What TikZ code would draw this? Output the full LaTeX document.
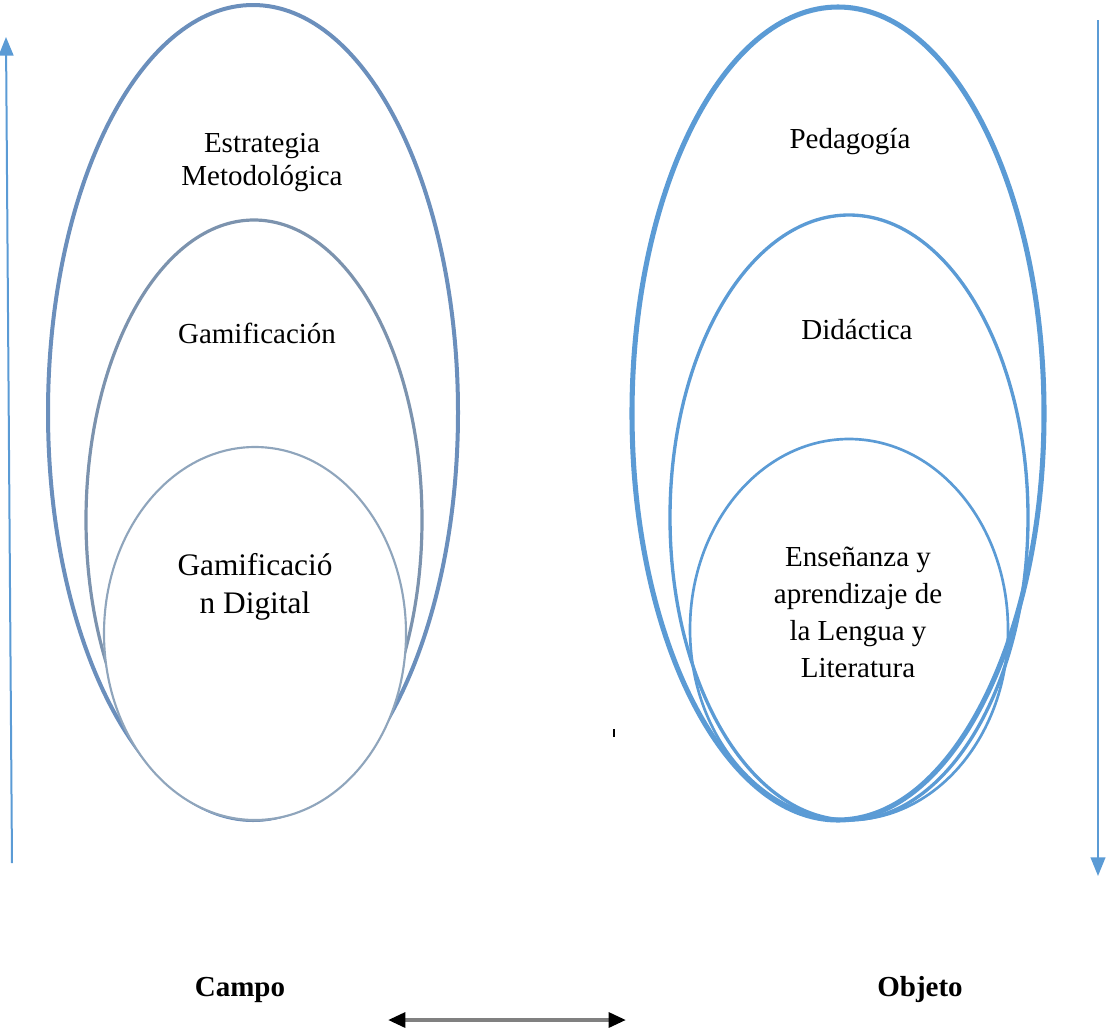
\documentclass[tikz,border=0pt]{standalone}
\usepackage{fontspec}
\setmainfont{Liberation Serif}
\usetikzlibrary{arrows.meta}
\definecolor{lblue}{HTML}{6B8FBC}
\definecolor{lgray}{HTML}{7C93AE}
\definecolor{lgray2}{HTML}{8FA5BC}
\definecolor{rblue}{HTML}{5B9BD5}
\begin{document}
\begin{tikzpicture}[x=0.75pt,y=-0.75pt,
  lbl/.style={align=center,font=\fontsize{21.75}{24.75}\selectfont},
  lblbig/.style={align=center,font=\fontsize{23.5}{28.5}\selectfont},
  lblr/.style={align=center,font=\fontsize{21.75}{27.75}\selectfont},
  bottomlbl/.style={font=\fontsize{21.75}{24}\selectfont\bfseries},
  sidearrow/.style={draw=rblue,line width=1.5pt,-{Triangle[width=11pt,length=14pt]}}]
\useasboundingbox (0,0) rectangle (1106,1029);
% left ellipses
\draw[lblue,line width=3pt] (253,412.5) ellipse [x radius=205,y radius=407.5];
\draw[lgray,line width=2.4pt] (254,520) ellipse [x radius=168,y radius=300];
\draw[lgray2,line width=1.6pt,fill=white] (255,633.5) ellipse [x radius=151,y radius=186.5];
% right ellipses
\draw[rblue,line width=3.8pt] (838,413.5) ellipse [x radius=206,y radius=406.5];
\draw[rblue,line width=2.5pt] (849,517.5) ellipse [x radius=179,y radius=302.5];
\draw[rblue,line width=2pt] (849,629.5) ellipse [x radius=159,y radius=190.5];
% labels
\node[lbl] (estr) at (262,163) {Estrategia\\Metodológica};
\node[lbl] (gam) at (257,333) {Gamificación};
\node[lblbig] (gamd) at (255,587) {Gamificació\\n Digital};
\node[lbl] (ped) at (850,142) {Pedagogía};
\node[lbl] (did) at (857,330) {Didáctica};
\node[lblr] (ens) at (858,612) {Enseñanza y\\aprendizaje de\\la Lengua y\\Literatura};
\node[bottomlbl] (campo) at (240,990) {Campo};
\node[bottomlbl] (objeto) at (920,990) {Objeto};
% side arrows
\coordinate (la1) at (12,863);
\coordinate (la2) at (6,37);
\draw[sidearrow] (la1) -- (la2);
\coordinate (ra1) at (1098,20);
\coordinate (ra2) at (1098,876);
\draw[sidearrow] (ra1) -- (ra2);
% bottom double arrow
\coordinate (ba1) at (388,1020);
\coordinate (ba2) at (626,1020);
\draw[draw=gray,line width=3pt,{Triangle[width=11pt,length=13pt,color=black]}-{Triangle[width=11pt,length=13pt,color=black]}] (ba1) -- (ba2);
% small tick
\coordinate (t1) at (614,729);
\coordinate (t2) at (614,737);
\draw[black,line width=0.8pt] (t1) -- (t2);
\end{tikzpicture}
\end{document}
